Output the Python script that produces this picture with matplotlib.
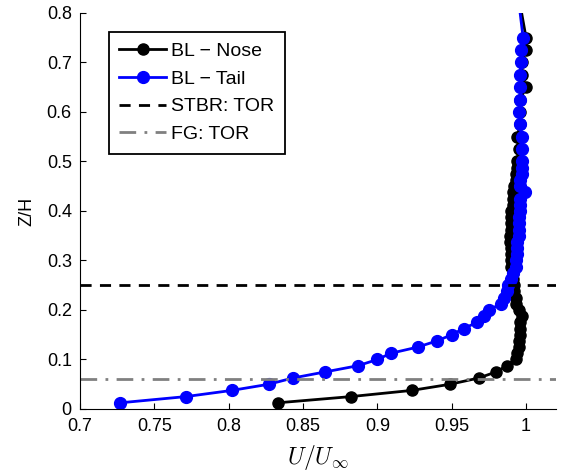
import numpy as np
import matplotlib
matplotlib.use("Agg")
import matplotlib.pyplot as plt

plt.rcParams['font.family'] = ['Liberation Sans', 'DejaVu Sans']
plt.rcParams['mathtext.fontset'] = 'cm'

# Nose profile (black)
z_nose = [0.0125, 0.025, 0.0375, 0.05, 0.0625, 0.075, 0.0875, 0.1,
          0.1125, 0.125, 0.1375, 0.15, 0.1625, 0.175, 0.1875, 0.2,
          0.2125, 0.225, 0.2375, 0.25, 0.2625, 0.275, 0.2875, 0.3,
          0.3125, 0.325, 0.3375, 0.35, 0.3625, 0.375, 0.3875, 0.4,
          0.4125, 0.425, 0.4375, 0.45, 0.4625, 0.475, 0.4875, 0.5,
          0.525, 0.55, 0.575, 0.6, 0.625, 0.65, 0.675, 0.7, 0.725, 0.75, 0.85]
u_nose = [0.833, 0.882, 0.923, 0.949, 0.968, 0.980, 0.987, 0.993,
          0.994, 0.995, 0.995, 0.996, 0.996, 0.996, 0.997, 0.995,
          0.993, 0.993, 0.992, 0.992, 0.991, 0.991, 0.990, 0.990,
          0.990, 0.990, 0.989, 0.989, 0.990, 0.990, 0.990, 0.990,
          0.991, 0.991, 0.991, 0.992, 0.993, 0.993, 0.994, 0.994,
          0.995, 0.994, 0.996, 0.996, 0.996, 1.000, 0.997, 0.997, 1.000, 1.000, 0.994]

# Tail profile (blue)
z_tail = [0.0125, 0.025, 0.0375, 0.05, 0.0625, 0.075, 0.0875, 0.1,
          0.1125, 0.125, 0.1375, 0.15, 0.1625, 0.175, 0.1875, 0.2,
          0.2125, 0.225, 0.2375, 0.25, 0.2625, 0.275, 0.2875, 0.3,
          0.3125, 0.325, 0.3375, 0.35, 0.3625, 0.375, 0.3875, 0.4,
          0.4125, 0.425, 0.4375, 0.45, 0.4625, 0.475, 0.4875, 0.5,
          0.525, 0.55, 0.575, 0.6, 0.625, 0.65, 0.675, 0.7, 0.725, 0.75, 0.85]
u_tail = [0.727, 0.771, 0.802, 0.827, 0.843, 0.865, 0.887, 0.900,
          0.909, 0.927, 0.940, 0.950, 0.958, 0.967, 0.972, 0.975,
          0.983, 0.985, 0.987, 0.988, 0.990, 0.991, 0.993, 0.993,
          0.994, 0.994, 0.994, 0.995, 0.995, 0.995, 0.995, 0.996,
          0.996, 0.996, 0.999, 0.996, 0.996, 0.997, 0.997, 0.997,
          0.997, 0.997, 0.996, 0.9955, 0.996, 0.996, 0.996, 0.9963, 0.9967, 0.998, 0.994]

z_stbr = 0.25
z_fg = 0.06

x_ticks = [0.7, 0.75, 0.8, 0.85, 0.9, 0.95, 1.0]
x_ticklabels = ['0.7', '0.75', '0.8', '0.85', '0.9', '0.95', '1']
y_ticks = [0, 0.1, 0.2, 0.3, 0.4, 0.5, 0.6, 0.7, 0.8]
y_ticklabels = ['0', '0.1', '0.2', '0.3', '0.4', '0.5', '0.6', '0.7', '0.8']

fig = plt.figure(figsize=(5.66, 4.72), dpi=100)
ax = fig.add_axes([0.1415, 0.1335, 0.8405, 0.839])

ax.plot(u_nose, z_nose, '-o', color='black', lw=2, ms=8, label='BL \u2212 Nose')
ax.plot(u_tail, z_tail, '-o', color='#0000ff', lw=2, ms=8.5, label='BL \u2212 Tail')
ax.axhline(z_stbr, color='black', lw=2, ls=(0, (4, 3)), label='STBR: TOR')
ax.axhline(z_fg, color='#808080', lw=2, ls=(0, (6, 3, 1, 3)), label='FG: TOR')

ax.set_xlim(0.7, 1.02)
ax.set_ylim(0, 0.8)
ax.set_xticks(x_ticks)
ax.set_xticklabels(x_ticklabels)
ax.set_yticks(y_ticks)
ax.set_yticklabels(y_ticklabels)
ax.tick_params(direction='in', length=4.5, labelsize=13, width=0.8)
ax.tick_params(axis='x', pad=6.5)
ax.tick_params(axis='y', pad=6)
ax.spines['top'].set_visible(False)
ax.spines['right'].set_visible(False)

ax.set_xlabel(r'$U/U_\infty$', fontsize=17, labelpad=6)
ax.set_ylabel('Z/H', fontsize=13, labelpad=8)

leg = ax.legend(loc='upper left', bbox_to_anchor=(0.06, 0.953), fontsize=14,
                numpoints=1, handlelength=2.4, handletextpad=0.25,
                fancybox=False, edgecolor='black', framealpha=1,
                borderpad=0.55, labelspacing=0.52, borderaxespad=0)
leg.get_frame().set_linewidth(1.3)

fig.savefig('out.png', dpi=100)
